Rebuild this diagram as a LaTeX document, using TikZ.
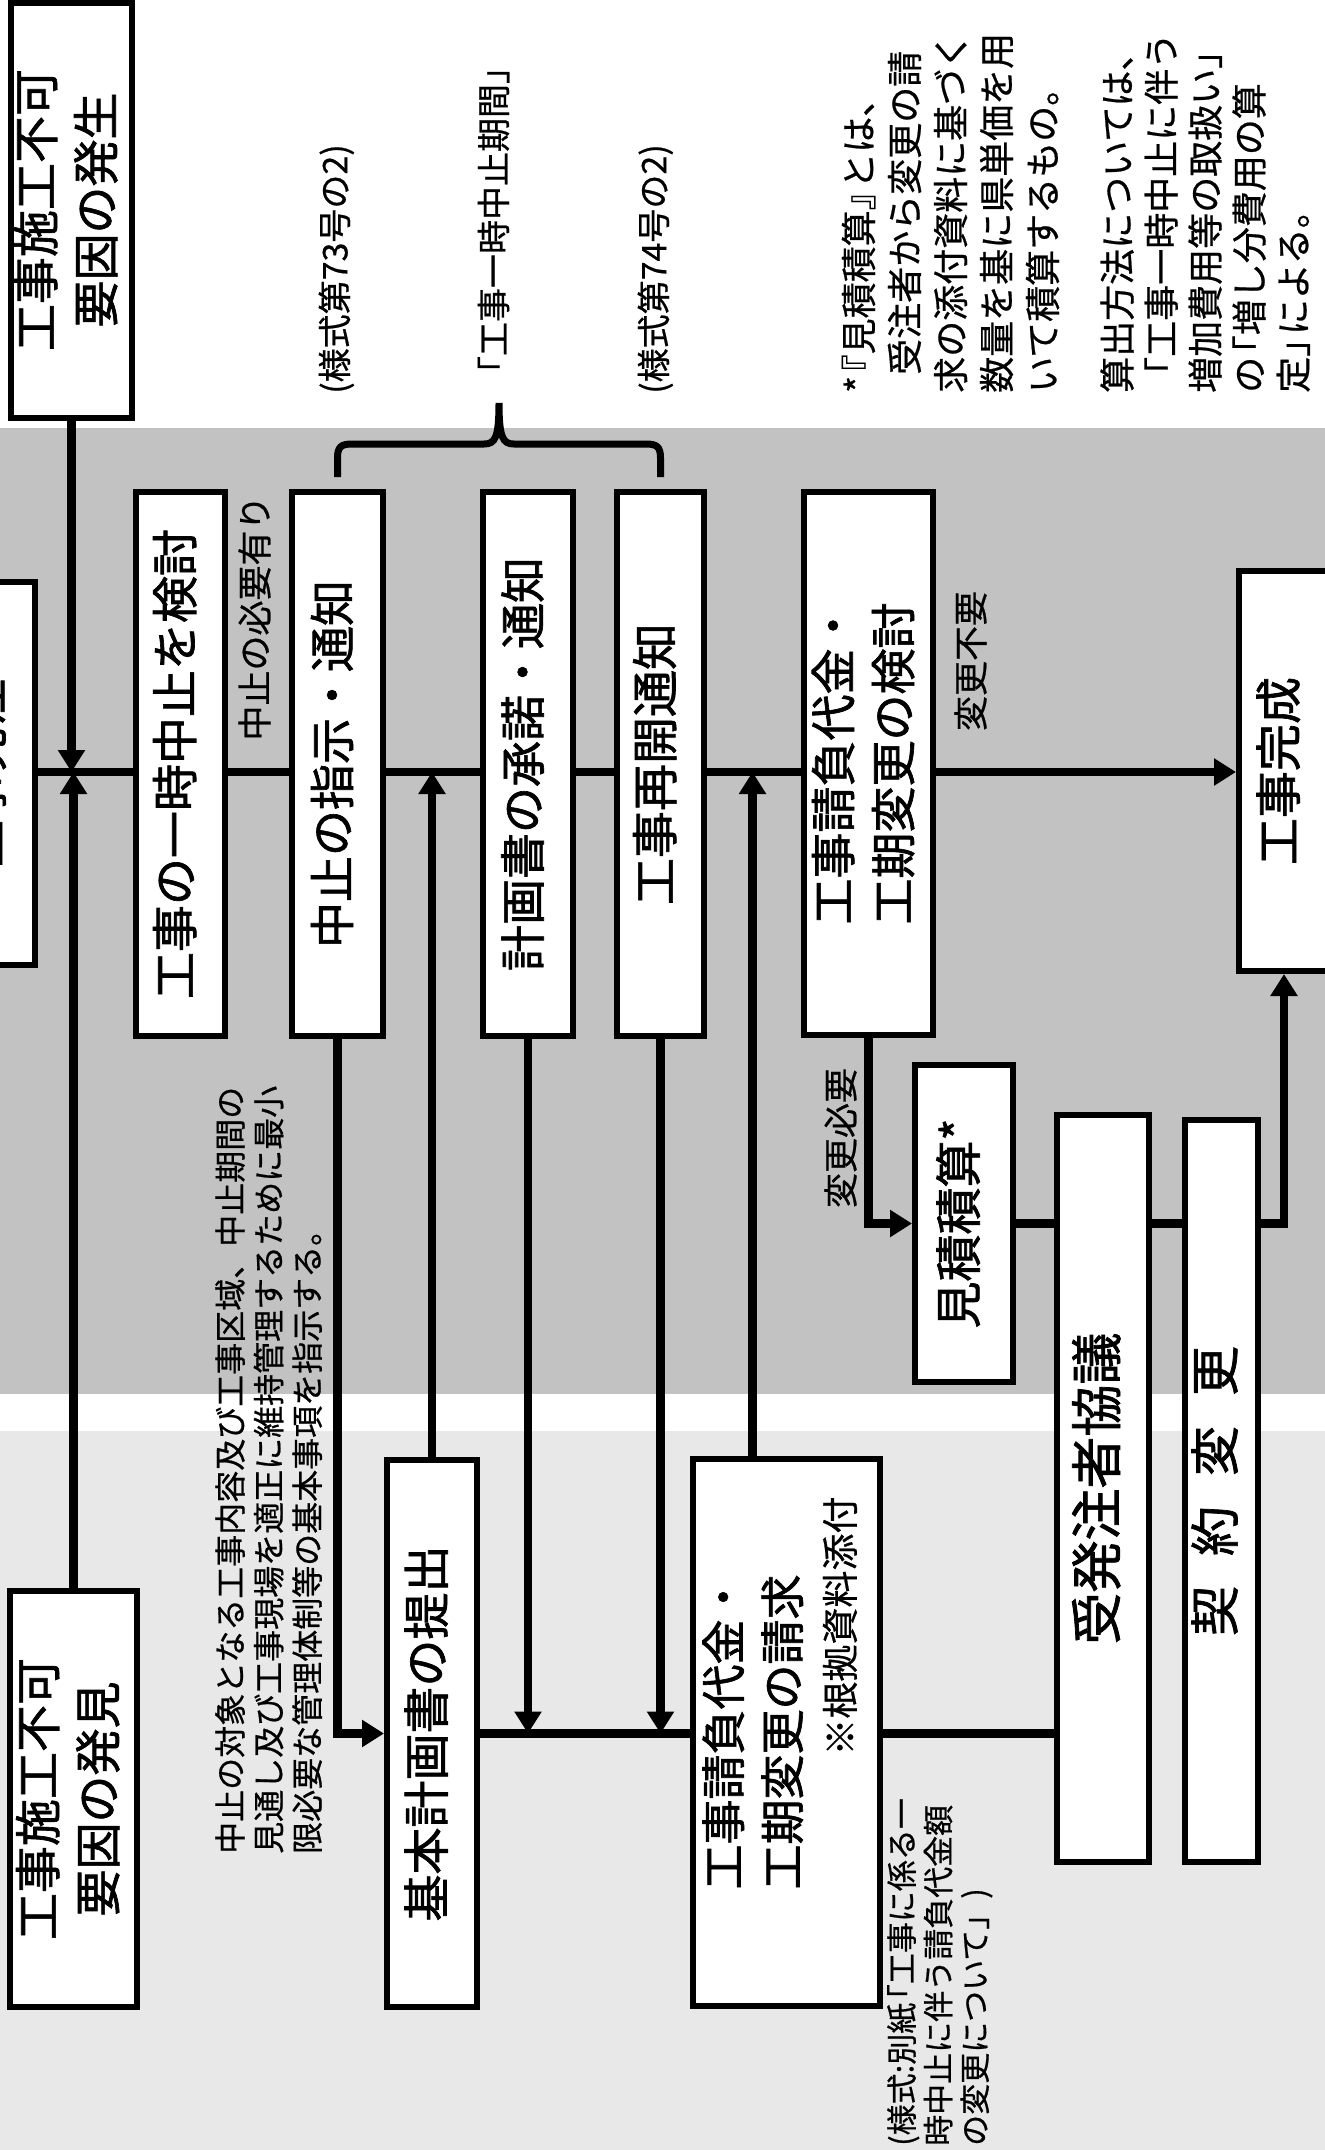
\documentclass[tikz,border=0pt]{standalone}
\usepackage{fontspec}
\setmainfont{Noto Sans CJK JP}[FakeBold=0.6]
\newfontfamily\boxfont{Noto Sans CJK JP}[FakeBold=1.4]
\usepackage{graphicx}
\usetikzlibrary{arrows.meta,calc}
\newcommand{\vtext}[2][c]{\rotatebox{90}{\begin{tabular}{@{}#1@{}}#2\end{tabular}}}
\newcommand{\obr}{\hspace{-0.4em}}
\definecolor{bandgray}{gray}{0.76}
\definecolor{lowgray}{gray}{0.91}

\begin{document}
\begin{tikzpicture}[
  x=1pt, y=-1pt,
  >={Triangle[length=22pt,width=26pt]},
  box/.style={draw, line width=6pt, fill=white, inner sep=0pt, font=\boxfont\fontsize{47}{60}\selectfont},
  midtxt/.style={inner sep=0pt, font=\fontsize{35}{44}\selectfont},
  smalltxt/.style={inner sep=0pt, font=\fontsize{32}{38.5}\selectfont},
  flow/.style={line width=8.5pt},
  flowarr/.style={line width=8.5pt, ->},
  brace/.style={line width=7pt}
]
\useasboundingbox (0,0) rectangle (1325,2150);

% Background bands
\fill[bandgray] (0,428) rectangle (1325,1394);
\fill[lowgray] (0,1431) rectangle (1325,2150);

% Main row boxes
\node[box, minimum width=90, minimum height=383] (hatchu) at (-10,773) {\vtext{工事発注}};
\node[box, minimum width=121, minimum height=415] (hassei) at (71.5,210) {\vtext{工事施工不可\\要因の発生}};
\node[box, minimum width=127, minimum height=416] (hakken) at (73.5,1799) {\vtext{工事施工不可\\要因の発見}};
\node[box, minimum width=89, minimum height=544] (kento) at (180.5,764) {\vtext{工事の一時中止を検討}};
\node[box, minimum width=91, minimum height=544, font=\boxfont\fontsize{46}{60}\selectfont] (shiji) at (337.5,764) {\vtext{中止の指示・通知}};
\node[box, minimum width=90, minimum height=544, font=\boxfont\fontsize{46}{60}\selectfont] (shodaku) at (528,764) {\vtext{計画書の承諾・通知}};
\node[box, minimum width=87, minimum height=544] (saikai) at (660.5,764) {\vtext{工事再開通知}};
\node[box, minimum width=129, minimum height=543, font=\boxfont\fontsize{46}{60}\selectfont] (kento2) at (868.5,763.5)
  {\vtext{工事請負代金・\\工期変更の検討}};
\node[box, minimum width=90, minimum height=400] (kansei) at (1284,771) {\vtext{工事完成}};
\coordinate (main) at (0,772);

% Lower boxes
\node[box, minimum width=98, minimum height=317] (mitsumori) at (964,1223.5) {\vtext{見積積算*}};
\node[box, minimum width=90, minimum height=547] (kihon) at (432,1733.5) {\vtext{基本計画書の提出}};
\node[box, minimum width=187, minimum height=547] (seikyu) at (786.5,1732.5) {};
\node[inner sep=0pt, font=\boxfont\fontsize{45}{59}\selectfont] at (758,1732) {\vtext{工事請負代金・\\工期変更の請求}};
\node[inner sep=0pt, font=\fontsize{37}{44}\selectfont] at (845,1626) {\vtext{※根拠資料添付}};
\node[box, minimum width=92, minimum height=747, font=\boxfont\fontsize{52}{60}\selectfont] (kyogi) at (1103,1488.5) {\vtext{受発注者協議}};
\node[box, minimum width=73, minimum height=742, font=\boxfont\fontsize{50}{60}\selectfont] (keiyaku) at (1221.5,1491)
  {\vtext{契\hspace{0.6em}約\hspace{0.6em}変\hspace{0.6em}更}};

% Main line
\draw[flowarr] (hassei.south) -- (hassei.south |- main);
\draw[flowarr] (hakken.north) -- (hakken.north |- main);
\draw[flow] (hatchu.east |- main) -- (kento.west |- main)
  (kento.east |- main) -- (shiji.west |- main)
  (shiji.east |- main) -- (shodaku.west |- main)
  (shodaku.east |- main) -- (saikai.west |- main)
  (saikai.east |- main) -- (kento2.west |- main);
\draw[flowarr] (kento2.east |- main) -- (kansei.west |- main);

% Plan and claim branch
\coordinate (seikyuTop) at ([xshift=-34pt]seikyu.north);
\draw[flowarr] (shiji.south) |- (kihon.west);
\draw[flowarr] (kihon.north) -- (kihon.north |- main);
\draw[flowarr] (shodaku.south) -- (shodaku.south |- kihon.east);
\draw[flowarr] (saikai.south) -- (saikai.south |- kihon.east);
\draw[flow] (kihon.east) -- (seikyu.west |- kihon.east);
\draw[flowarr] (seikyuTop) -- (seikyuTop |- main);
\draw[flow] (seikyu.east |- kihon.east) -- (kyogi.west |- kihon.east);

% Change branch
\draw[flowarr] (kento2.south) |- (mitsumori.west);
\draw[flow] (mitsumori.east) -- (kyogi.west |- mitsumori.east)
  (kyogi.east |- mitsumori.east) -- (keiyaku.west |- mitsumori.east);
\draw[flowarr] (keiyaku.east |- mitsumori.east) -| (kansei.south);

% Suspension period brace
\coordinate (braceL) at ($(shiji.north)+(0,-12)$);
\coordinate (braceR) at ($(saikai.north)+(0,-12)$);
\coordinate (braceTip) at (499,403);
\draw[brace] (braceL) -- (337.5,458) .. controls (337.5,447) and (341,444) .. (352,444)
  -- (484,444) .. controls (495,444) and (499,438) .. (braceTip)
  .. controls (499,438) and (503,444) .. (514,444)
  -- (646,444) .. controls (657,444) and (660.5,447) .. (660.5,458) -- (braceR);

% Labels
\node[midtxt] (needstop) at (259,618) {\vtext{中止の必要有り}};
\node[midtxt] (nochange) at (975,661) {\vtext{変更不要}};
\node[midtxt] (needchange) at (845,1138) {\vtext{変更必要}};
\node[midtxt, font=\fontsize{34}{40}\selectfont] (form73) at (339,269) {\vtext{(様式第73号の2)}};
\node[midtxt, font=\fontsize{34}{40}\selectfont] (period) at (498,220) {\vtext{「工事一時中止期間」}};
\node[midtxt, font=\fontsize{34}{40}\selectfont] (form74) at (658,269) {\vtext{(様式第74号の2)}};

% Notes
\node[smalltxt, anchor=south] (shijinote) at (273,1854)
  {\vtext[l]{中止の対象となる工事内容及び工事区域、中止期間の\\見通し及び工事現場を適正に維持管理するために最小\\限必要な管理体制等の基本事項を指示する。}};
\node[smalltxt, anchor=south, font=\fontsize{31}{35}\selectfont] (seikyunote) at (942,2146)
  {\vtext[l]{(様式:別紙\obr「工事に係る一\\時中止に伴う請負代金額\\の変更について」)}};
\node[midtxt, anchor=south, font=\fontsize{36}{46}\selectfont] (mitsunote) at (955,393)
  {\vtext[l]{*\obr『見積積算』\obr とは、\\\hspace*{0.5em}受注者から変更の請\\求の添付資料に基づく\\数量を基に県単価を用\\いて積算するもの。}};
\node[midtxt, anchor=south, font=\fontsize{36}{44}\selectfont] (santeinote) at (1210,393)
  {\vtext[l]{算出方法については、\\「工事一時中止に伴う\\増加費用等の取扱い」\\の\obr「増し分費用の算\\定」\obr による。}};
\end{tikzpicture}
\end{document}
